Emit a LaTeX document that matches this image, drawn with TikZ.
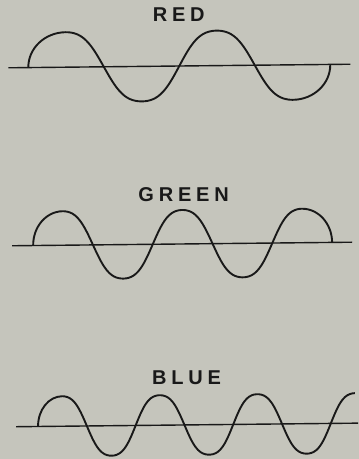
\documentclass[tikz,border=0pt]{standalone}
\usepackage{fontspec}
\newfontfamily\capsfont{Liberation Sans}[LetterSpace=24]
\definecolor{paper}{RGB}{197,197,188}
\definecolor{ink}{RGB}{25,25,25}
\tikzset{
  axis/.style = {line width=1.4pt, ink},
  wave/.style = {line width=1.9pt, ink, line join=round},
  tag/.style  = {font=\capsfont\bfseries\fontsize{20}{20}\selectfont, text=ink, inner sep=0pt},
  % rounder humps than a plain sine
  declare function={hump(\t)=(sin(\t)+0.06*sin(3*\t))/0.94;},
}

\begin{document}
\begin{tikzpicture}[x=1pt,y=1pt]
  \fill[paper] (0,0) rectangle (359,459);
  \useasboundingbox (0,0) rectangle (359,459);
  \begin{scope}[rotate around={0.6:(180,230)}]
  % labels
  \node[tag] (red)   at (181,444) {RED};
  \node[tag] (green) at (184,264) {GREEN};
  \node[tag] (blue)  at (185,81)  {BLUE};
  % axes
  \foreach \y/\a/\b in {393/10/352, 215/12/352, 34/14/356}
    \draw[axis] (\a,\y) -- (\b,\y);
  % red wave
  \draw[wave] (30,393) arc[start angle=180,end angle=90,x radius=37.75,y radius=35]
    -- plot[domain=67.75:294.25,samples=90,smooth] (\x,{393+35*hump((\x-30)/75.5*180)})
    arc[start angle=270,end angle=360,x radius=37.75,y radius=35];
  % green wave
  \draw[wave] (33,215) arc[start angle=180,end angle=90,x radius=29.9,y radius=34]
    -- plot[domain=62.9:302.1,samples=100,smooth] (\x,{215+34*hump((\x-33)/59.8*180)})
    arc[start angle=90,end angle=0,x radius=29.9,y radius=34];
  % blue wave
  \draw[wave] (36,34) arc[start angle=180,end angle=90,x radius=24.4,y radius=30]
    -- plot[domain=60.4:353.2,samples=120,smooth] (\x,{34+30*hump((\x-36)/48.8*180)});
  \end{scope}
\end{tikzpicture}
\end{document}
